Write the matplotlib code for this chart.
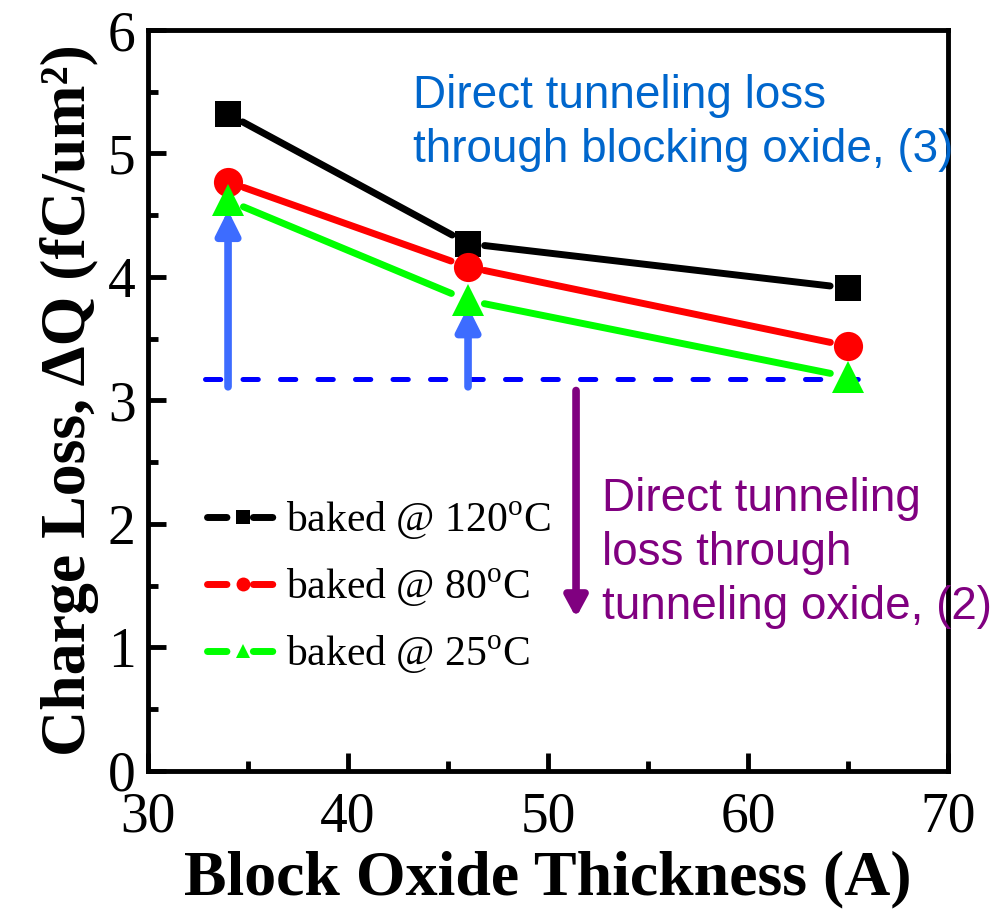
import matplotlib
matplotlib.use("Agg")
import matplotlib.pyplot as plt
from matplotlib.lines import Line2D
from matplotlib.ticker import MultipleLocator

# Charge loss vs. blocking oxide thickness for three bake temperatures
thickness = [34, 46, 65]
loss_120c = [5.32, 4.27, 3.91]
loss_80c = [4.77, 4.08, 3.44]
loss_25c = [4.62, 3.81, 3.19]
series_labels = ["baked @ 120$^{\\rm o}$C", "baked @ 80$^{\\rm o}$C", "baked @ 25$^{\\rm o}$C"]

# reference level for tunneling through the tunnel oxide
base_level = 3.17
base_span = [32.85, 66.35]
blue_arrow_x = [34, 46]
blue_arrow_tip = [4.54, 3.76]
purple_arrow_x = 51.4
purple_arrow_from = 3.08
purple_arrow_to = 1.24

plt.rcParams["font.family"] = ["Liberation Serif", "DejaVu Serif"]
plt.rcParams["mathtext.fontset"] = "custom"
plt.rcParams["mathtext.rm"] = "Liberation Serif"
plt.rcParams["lines.scale_dashes"] = False

fig = plt.figure(figsize=(10.03, 9.10), dpi=100)
ax = fig.add_axes([0.1476, 0.153, 0.7976, 0.814])

styles = [("black", "s", loss_120c), ("#ff0000", "o", loss_80c), ("#00ff00", "^", loss_25c)]

# lines broken around the markers, Origin style
for color, marker, vals in styles:
    for i in range(len(thickness) - 1):
        ax.annotate("", xy=(thickness[i + 1], vals[i + 1]), xytext=(thickness[i], vals[i]),
                    arrowprops=dict(arrowstyle="-", color=color, lw=5, shrinkA=12, shrinkB=13,
                                    capstyle="round"), zorder=2)

# dashed base level and arrows drawn under the markers
ax.plot(base_span, [base_level, base_level], color="#0000ff", lw=3.6,
        dashes=(11, 16), dash_capstyle="round", zorder=1)
for xa, tip in zip(blue_arrow_x, blue_arrow_tip):
    ax.annotate("", xy=(xa, tip), xytext=(xa, base_level - 0.06),
                arrowprops=dict(arrowstyle="-|>,head_length=1.4,head_width=0.7",
                                color="#3d6cff", lw=5.5, shrinkA=0, shrinkB=0), zorder=1)
ax.annotate("", xy=(purple_arrow_x, purple_arrow_to), xytext=(purple_arrow_x, purple_arrow_from),
            arrowprops=dict(arrowstyle="-|>,head_length=1.2,head_width=0.65",
                            color="#800080", lw=5.5, shrinkA=0, shrinkB=0), zorder=1)

marker_sizes = {"s": 19, "o": 21, "^": 23}
for color, marker, vals in styles:
    ax.plot(thickness, vals, linestyle="none", marker=marker, color=color,
            markersize=marker_sizes[marker], markeredgewidth=0, zorder=3)

ax.text(43.25, 5.64, "Direct tunneling loss\nthrough blocking oxide, (3)", color="#0066cc",
        fontsize=33, family=["Liberation Sans", "DejaVu Sans"], va="top", ha="left",
        linespacing=1.28)
ax.text(52.7, 2.38, "Direct tunneling\nloss through\ntunneling oxide, (2)", color="#800080",
        fontsize=33, family=["Liberation Sans", "DejaVu Sans"], va="top", ha="left",
        linespacing=1.3)

handles = [Line2D([], [], color=c, lw=5, marker=m, markersize=10, markeredgewidth=0,
                  dashes=(14, 19), dash_capstyle="round") for c, m, _ in styles]
ax.legend(handles, series_labels, loc="upper left", bbox_to_anchor=(0.074, 0.366),
          frameon=False, fontsize=30, handlelength=1.7, handletextpad=0.2,
          labelspacing=0.6, borderpad=0, borderaxespad=0)

ax.set_xlim(30, 70)
ax.set_ylim(0, 6)
ax.xaxis.set_major_locator(MultipleLocator(10))
ax.xaxis.set_minor_locator(MultipleLocator(5))
ax.yaxis.set_major_locator(MultipleLocator(1))
ax.yaxis.set_minor_locator(MultipleLocator(0.5))
ax.tick_params(which="both", direction="in", width=3.5, top=False, right=False, labelsize=40)
ax.tick_params(which="major", length=13)
ax.tick_params(which="minor", length=7)
ax.tick_params(axis="x", pad=15)
ax.tick_params(axis="y", pad=9)
for sp in ax.spines.values():
    sp.set_linewidth(3.5)

ax.set_xlabel("Block Oxide Thickness (A)", fontsize=46, fontweight="bold", labelpad=5)
ax.set_ylabel("Charge Loss, \u0394Q (fC/um\u00b2)", fontsize=46, fontweight="bold", labelpad=6)

fig.savefig("out.png", dpi=100)
